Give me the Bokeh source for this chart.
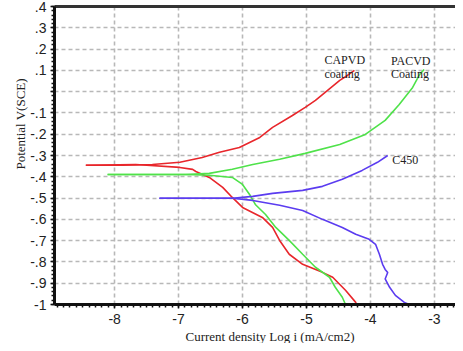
import math
from bokeh.plotting import figure
from bokeh.models import Label, FixedTicker, Range1d, Title, LinearAxis
from bokeh.embed import file_html
from bokeh.resources import INLINE

# ---- data (log i, potential V) ----
capvd_anodic_x = [-8.45, -7.88, -7.41, -6.98, -6.63, -6.36, -6.05, -5.73, -5.53, -5.22, -5.02, -4.86, -4.67, -4.48, -4.36, -4.25]
capvd_anodic_y = [-0.346, -0.346, -0.342, -0.332, -0.309, -0.285, -0.262, -0.215, -0.168, -0.112, -0.074, -0.041, 0.006, 0.053, 0.076, 0.100]
capvd_cath_x = [-8.45, -7.67, -6.98, -6.78, -6.73, -6.52, -6.31, -6.16, -6.00, -5.69, -5.53, -5.42, -5.27, -5.06, -4.75, -4.59, -4.39, -4.23, -4.22]
capvd_cath_y = [-0.346, -0.342, -0.356, -0.365, -0.375, -0.403, -0.450, -0.497, -0.544, -0.591, -0.638, -0.699, -0.764, -0.811, -0.849, -0.872, -0.933, -0.990, -1.000]

pacvd_anodic_x = [-8.11, -6.89, -6.52, -6.16, -5.84, -5.42, -5.02, -4.48, -4.08, -3.77, -3.55, -3.34, -3.23, -3.16]
pacvd_anodic_y = [-0.389, -0.389, -0.384, -0.365, -0.342, -0.318, -0.290, -0.248, -0.201, -0.135, -0.060, 0.020, 0.081, 0.104]
pacvd_cath_x = [-8.11, -6.89, -6.52, -6.16, -6.00, -5.89, -5.80, -5.64, -5.48, -5.27, -5.06, -4.86, -4.64, -4.55, -4.44, -4.39]
pacvd_cath_y = [-0.389, -0.389, -0.393, -0.403, -0.436, -0.483, -0.530, -0.577, -0.638, -0.699, -0.764, -0.825, -0.872, -0.919, -0.966, -1.000]

c450_anodic_x = [-7.30, -6.16, -5.84, -5.53, -5.06, -4.75, -4.44, -4.13, -3.89, -3.73]
c450_anodic_y = [-0.501, -0.501, -0.492, -0.478, -0.464, -0.445, -0.412, -0.370, -0.332, -0.300]
c450_cath_x = [-7.30, -6.16, -5.84, -5.42, -5.06, -4.75, -4.44, -4.23, -4.02, -3.92, -3.86, -3.81, -3.77, -3.73, -3.77, -3.70, -3.61, -3.47, -3.39]
c450_cath_y = [-0.501, -0.501, -0.511, -0.534, -0.558, -0.600, -0.638, -0.670, -0.694, -0.717, -0.764, -0.811, -0.835, -0.850, -0.880, -0.919, -0.957, -0.990, -1.000]

x_ticks = [-8, -7, -6, -5, -4, -3]
x_tick_labels = ["-8", "-7", "-6", "-5", "-4", "-3"]
y_ticks = [-1.0, -0.9, -0.8, -0.7, -0.6, -0.5, -0.4, -0.3, -0.2, -0.1, 0.0, 0.1, 0.2, 0.3, 0.4]
y_tick_labels = ["-1", "-.9", "-.8", "-.7", "-.6", "-.5", "-.4", "-.3", "-.2", "-.1", "", ".1", ".2", ".3", ".4"]

RED = "#e8262b"
GREEN = "#4fe24a"
BLUE = "#5b3cf0"

XR = Range1d(-8.94, -2.67)
YR = Range1d(-1.0, 0.4)

p = figure(width=455, height=343, output_backend="svg", toolbar_location=None,
           x_range=XR, y_range=YR,
           min_border_left=54, min_border_right=0, min_border_top=6, min_border_bottom=10)
p.outline_line_color = None

for ax in (p.xaxis[0], p.yaxis[0]):
    ax.axis_line_width = 3
    ax.axis_line_color = "#111111"
    ax.major_tick_line_color = "#111111"
    ax.minor_tick_line_color = "#111111"
    ax.major_tick_line_width = 1.5
    ax.minor_tick_line_width = 1.5
    ax.major_tick_in = 0
    ax.major_tick_out = 4
    ax.minor_tick_in = 0
    ax.minor_tick_out = 3
    ax.major_label_text_font = "Liberation Sans"
    ax.major_label_text_font_size = "14px"
    ax.major_label_text_color = "#222222"

p.xaxis.ticker = FixedTicker(ticks=x_ticks, minor_ticks=[-8.9 + 0.1 * i for i in range(63)])
p.xaxis.major_label_overrides = {t: l for t, l in zip(x_ticks, x_tick_labels)}
p.yaxis.ticker = FixedTicker(ticks=y_ticks, minor_ticks=[round(-1.0 + 0.02 * i, 2) for i in range(71)])
p.yaxis.major_label_overrides = {t: l for t, l in zip(y_ticks, y_tick_labels)}
p.xaxis.major_label_standoff = 5
p.yaxis.major_label_standoff = 4

# top frame line
top = LinearAxis(axis_line_width=3, axis_line_color="#333333", major_tick_line_color=None,
                 minor_tick_line_color=None, major_label_text_font_size="0px",
                 major_label_standoff=0, ticker=FixedTicker(ticks=[]))
p.add_layout(top, "above")

# dashed grid
p.xgrid.ticker = FixedTicker(ticks=x_ticks)
p.ygrid.ticker = FixedTicker(ticks=y_ticks[:-1])
for g in (p.xgrid[0], p.ygrid[0]):
    g.grid_line_color = "#b8b8b8"
    g.grid_line_dash = "4 3"
    g.grid_line_width = 1.6

lw = 1.6
p.line(capvd_anodic_x, capvd_anodic_y, line_color=RED, line_width=lw)
p.line(capvd_cath_x, capvd_cath_y, line_color=RED, line_width=lw)
p.line(pacvd_anodic_x, pacvd_anodic_y, line_color=GREEN, line_width=lw)
p.line(pacvd_cath_x, pacvd_cath_y, line_color=GREEN, line_width=lw)
p.line(c450_anodic_x, c450_anodic_y, line_color=BLUE, line_width=lw)
p.line(c450_cath_x, c450_cath_y, line_color=BLUE, line_width=lw)

def lab(x, y, t, size="12px", **kw):
    p.add_layout(Label(x=x, y=y, text=t, text_font="Liberation Serif", text_font_size=size,
                       text_color="#222222", text_baseline="middle", **kw))

lab(-4.72, 0.15, "CAPVD")
lab(-4.72, 0.085, "coating")
lab(-3.68, 0.146, "PACVD")
lab(-3.68, 0.081, "Coating")
lab(-3.66, -0.323, "C450")

p.add_layout(Title(text="Current density Log i (mA/cm2)", align="left", offset=131,
                   text_font="Liberation Serif", text_font_size="13px",
                   text_font_style="normal", text_color="#222222", standoff=0), "below")
p.add_layout(Title(text="Potential V(SCE)", align="left", offset=135,
                   text_font="Liberation Serif", text_font_size="13px",
                   text_font_style="normal", text_color="#222222", standoff=0), "left")

open("out.html", "w").write(file_html(p, INLINE))
